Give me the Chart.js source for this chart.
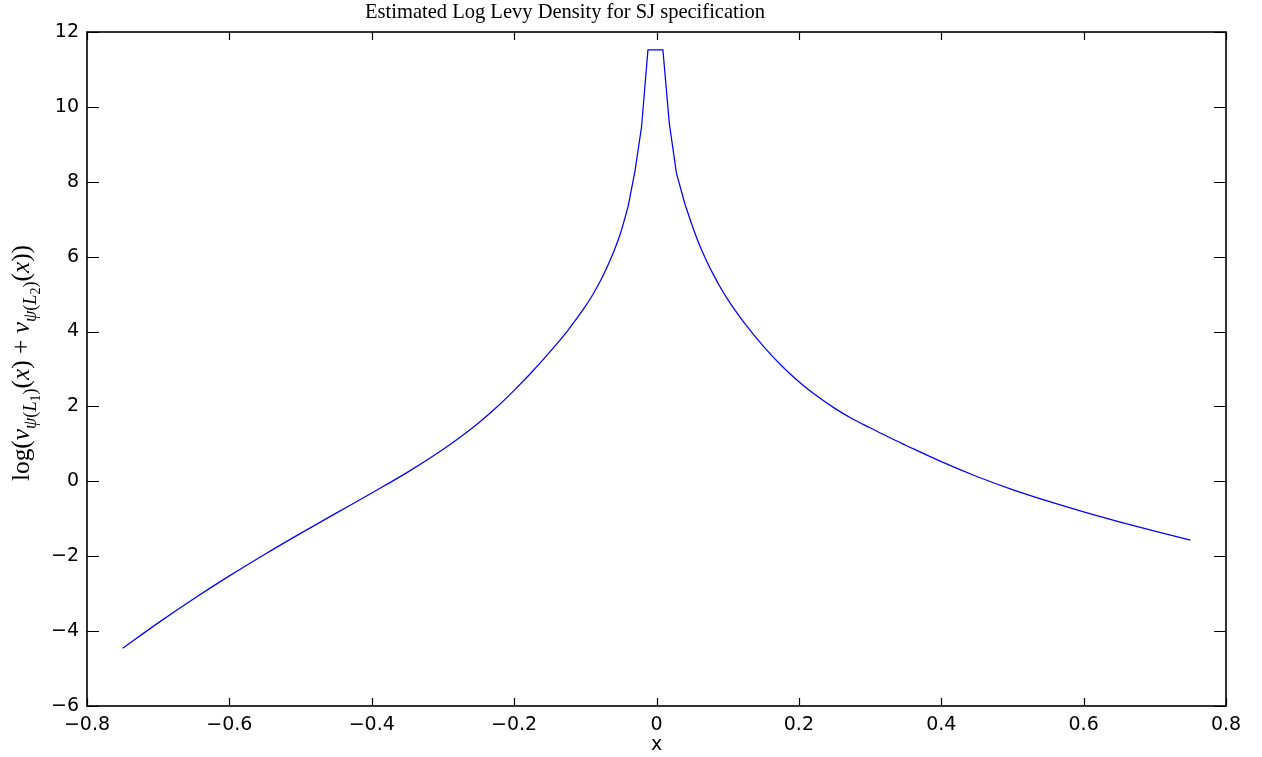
<!DOCTYPE html>
<html>
<head>
<meta charset="utf-8">
<style>html,body{margin:0;padding:0;background:#fff}canvas{display:block}</style>
<script src="https://cdn.jsdelivr.net/npm/chart.js@4.4.0/dist/chart.umd.min.js"></script>
</head>
<body>
<canvas id="c" width="1262" height="757"></canvas>
<script>
const titleText = 'Estimated Log Levy Density for SJ specification';
const xAxisLabel = 'x';
const xTickValues = [-0.8, -0.6, -0.4, -0.2, 0, 0.2, 0.4, 0.6, 0.8];
const yTickValues = [-6, -4, -2, 0, 2, 4, 6, 8, 10, 12];
const xValues = [-0.75,-0.70,-0.65,-0.60,-0.55,-0.50,-0.45,-0.40,-0.35,-0.30,-0.275,-0.25,-0.225,-0.20,-0.175,-0.15,-0.125,-0.10,-0.09,-0.08,-0.07,-0.06,-0.05,-0.04,-0.03,-0.021,-0.012,0.009,0.018,0.028,0.04,0.05,0.06,0.07,0.08,0.09,0.10,0.11,0.125,0.15,0.175,0.20,0.225,0.25,0.275,0.30,0.325,0.35,0.40,0.45,0.50,0.55,0.60,0.65,0.70,0.75];
const yValues = [-4.46,-3.78,-3.135,-2.525,-1.945,-1.39,-0.85,-0.31,0.24,0.85,1.19,1.56,1.97,2.43,2.92,3.45,4.02,4.67,4.97,5.31,5.70,6.14,6.66,7.33,8.31,9.47,11.52,11.52,9.56,8.23,7.40,6.84,6.33,5.90,5.52,5.17,4.86,4.58,4.19,3.61,3.10,2.66,2.285,1.955,1.67,1.43,1.19,0.965,0.525,0.13,-0.22,-0.53,-0.815,-1.08,-1.33,-1.57];

function fmt(v, dec) {
  if (Math.abs(v) < 1e-9) return '0';
  return (v < 0 ? '\u2212' : '') + Math.abs(v).toFixed(dec);
}

const points = xValues.map((x, i) => ({ x: x, y: yValues[i] }));
const leftPart = points.filter(p => p.x <= -0.04);
const centerPart = points.filter(p => p.x >= -0.04 && p.x <= 0.04);
const rightPart = points.filter(p => p.x >= 0.04);

const framePlugin = {
  id: 'frame',
  afterDraw(chart) {
    const ctx = chart.ctx, a = chart.chartArea;
    const xs = chart.scales.x, ys = chart.scales.y;
    ctx.save();
    ctx.strokeStyle = '#000';
    ctx.lineWidth = 1.6;
    ctx.strokeRect(a.left, a.top, a.right - a.left, a.bottom - a.top);
    ctx.lineWidth = 1.2;
    ctx.beginPath();
    xTickValues.forEach(v => {
      const p = Math.round(xs.getPixelForValue(v)) + 0.5;
      ctx.moveTo(p, a.bottom); ctx.lineTo(p, a.bottom - 8);
      ctx.moveTo(p, a.top); ctx.lineTo(p, a.top + 8);
    });
    yTickValues.forEach(v => {
      const p = Math.round(ys.getPixelForValue(v)) + 0.5;
      ctx.moveTo(a.left, p); ctx.lineTo(a.left + 12, p);
      ctx.moveTo(a.right, p); ctx.lineTo(a.right - 12, p);
    });
    ctx.stroke();

    // title
    ctx.fillStyle = '#000';
    ctx.textAlign = 'center';
    ctx.textBaseline = 'alphabetic';
    let fs = 20;
    ctx.font = fs + 'px "Liberation Serif"';
    const w = ctx.measureText(titleText).width;
    fs = fs * 400 / w;
    ctx.font = fs.toFixed(2) + 'px "Liberation Serif"';
    ctx.fillText(titleText, 565, 18);

    // x label
    ctx.font = '19px "DejaVu Sans"';
    ctx.textBaseline = 'middle';
    ctx.fillText(xAxisLabel, (a.left + a.right) / 2, 745);

    // y label (math)
    const parts = [
      ['log(', 1, 0, false], ['\u03bd', 1, 0, true],
      ['\u03c8', 0.72, 0.28, true], ['(', 0.72, 0.28, false], ['L', 0.72, 0.28, true], ['1', 0.55, 0.42, false], [')', 0.72, 0.28, false],
      ['(', 1, 0, false], ['x', 1, 0, true], [')', 1, 0, false],
      [' + ', 1, 0, false], ['\u03bd', 1, 0, true],
      ['\u03c8', 0.72, 0.28, true], ['(', 0.72, 0.28, false], ['L', 0.72, 0.28, true], ['2', 0.55, 0.42, false], [')', 0.72, 0.28, false],
      ['(', 1, 0, false], ['x', 1, 0, true], ['))', 1, 0, false]
    ];
    const base = 20;
    const fontFor = (p, s) => (p[3] ? 'italic ' : '') + (s * p[1]).toFixed(2) + 'px "Liberation Serif"';
    let total = 0;
    parts.forEach(p => { ctx.font = fontFor(p, base); total += ctx.measureText(p[0]).width; });
    const size = base * 236 / total;
    ctx.translate(29, 481);
    ctx.rotate(-Math.PI / 2);
    ctx.textAlign = 'left';
    ctx.textBaseline = 'alphabetic';
    let cx = 0;
    parts.forEach(p => {
      ctx.font = fontFor(p, size);
      ctx.fillText(p[0], cx, p[2] * size);
      cx += ctx.measureText(p[0]).width;
    });
    ctx.restore();
  }
};

const tickFont = { family: 'DejaVu Sans', size: 19 };
const lineStyle = { showLine: true, borderColor: '#0000ff', borderWidth: 1.25, pointRadius: 0, fill: false };

new Chart(document.getElementById('c'), {
  type: 'scatter',
  data: {
    datasets: [
      Object.assign({ data: leftPart, cubicInterpolationMode: 'monotone' }, lineStyle),
      Object.assign({ data: centerPart, tension: 0 }, lineStyle),
      Object.assign({ data: rightPart, cubicInterpolationMode: 'monotone' }, lineStyle)
    ]
  },
  options: {
    responsive: false,
    animation: false,
    devicePixelRatio: 1,
    layout: { padding: { left: 0, right: 36, top: 32, bottom: 0 } },
    plugins: { legend: { display: false }, tooltip: { enabled: false }, title: { display: false } },
    scales: {
      x: {
        type: 'linear', min: -0.8, max: 0.8,
        afterBuildTicks(s) { s.ticks = xTickValues.map(v => ({ value: v })); },
        afterFit(s) { s.height = 51; },
        grid: { display: false, drawTicks: false },
        border: { display: false },
        ticks: { padding: 8, color: '#000', font: tickFont, maxRotation: 0, autoSkip: false, callback: v => fmt(v, 1) }
      },
      y: {
        type: 'linear', min: -6, max: 12,
        afterBuildTicks(s) { s.ticks = yTickValues.map(v => ({ value: v })); },
        afterFit(s) { s.width = 87; },
        grid: { display: false, drawTicks: false },
        border: { display: false },
        ticks: { padding: 8, color: '#000', font: tickFont, autoSkip: false, callback: v => fmt(v, 0) }
      }
    }
  },
  plugins: [framePlugin]
});
</script>
</body>
</html>
